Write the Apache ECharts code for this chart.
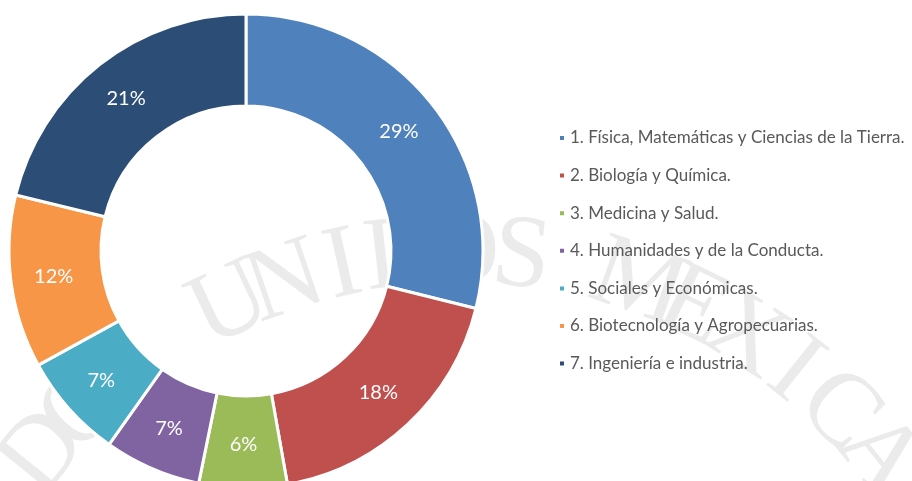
<!DOCTYPE html>
<html>
<head>
<meta charset="utf-8">
<script src="https://cdn.jsdelivr.net/npm/echarts@6/dist/echarts.min.js"></script>
<style>
  html, body { margin: 0; padding: 0; background: #fff; }
  #chart { width: 912px; height: 481px; }
</style>
</head>
<body>
<div id="chart"></div>
<script>
var categories = [
    '1. Física, Matemáticas y Ciencias de la Tierra.',
    '2. Biología y Química.',
    '3. Medicina y Salud.',
    '4. Humanidades y de la Conducta.',
    '5. Sociales y Económicas.',
    '6. Biotecnología y Agropecuarias.',
    '7. Ingeniería e industria.'
];
var shares = [28.9, 18.3, 6.0, 6.6, 7.2, 11.8, 21.2];
var colors = ['#4F81BD', '#C0504D', '#9BBB59', '#8064A2', '#4BACC6', '#F79646', '#2C4D75'];

// watermark lettering (decoration only)
var watermark = 'DOS UNIDOS MEXICA';

var chart = echarts.init(document.getElementById('chart'));

var marks = [];
var cx = 460, cy = 790, r = 535;
for (var i = 0; i < watermark.length; i++) {
    var ch = watermark.charAt(i);
    if (ch === ' ') continue;
    var a = (-51 + i * 6.4) * Math.PI / 180;
    marks.push({
        type: 'text',
        x: cx + r * Math.sin(a),
        y: cy - r * Math.cos(a),
        rotation: -a,
        z: -10,
        silent: true,
        style: {
            text: ch,
            font: '104px "Liberation Serif"',
            fill: '#ebebeb',
            align: 'center',
            verticalAlign: 'middle'
        }
    });
}

var option = {
    backgroundColor: '#fff',
    color: colors,
    graphic: marks,
    legend: {
        orient: 'vertical',
        left: 553,
        top: 123,
        icon: 'rect',
        itemWidth: 6,
        itemHeight: 6,
        itemGap: 17.6,
        selectedMode: false,
        textStyle: {
            color: '#595959',
            fontFamily: 'Lato',
            fontSize: 17,
            lineHeight: 20,
            padding: [0, 0, 0, 0]
        },
        data: categories
    },
    series: [
        {
            type: 'pie',
            center: [246, 251],
            radius: [145, 237],
            startAngle: 90,
            clockwise: true,
            percentPrecision: 0,
            avoidLabelOverlap: false,
            animation: false,
            itemStyle: {
                borderColor: '#fff',
                borderWidth: 3
            },
            label: {
                show: true,
                position: 'inside',
                formatter: '{d}%',
                color: '#fff',
                fontFamily: 'Lato',
                fontSize: 20
            },
            labelLine: { show: false },
            emphasis: { disabled: true },
            data: categories.map(function (name, i) {
                return { name: name, value: shares[i] };
            })
        }
    ]
};

chart.setOption(option);
</script>
</body>
</html>
